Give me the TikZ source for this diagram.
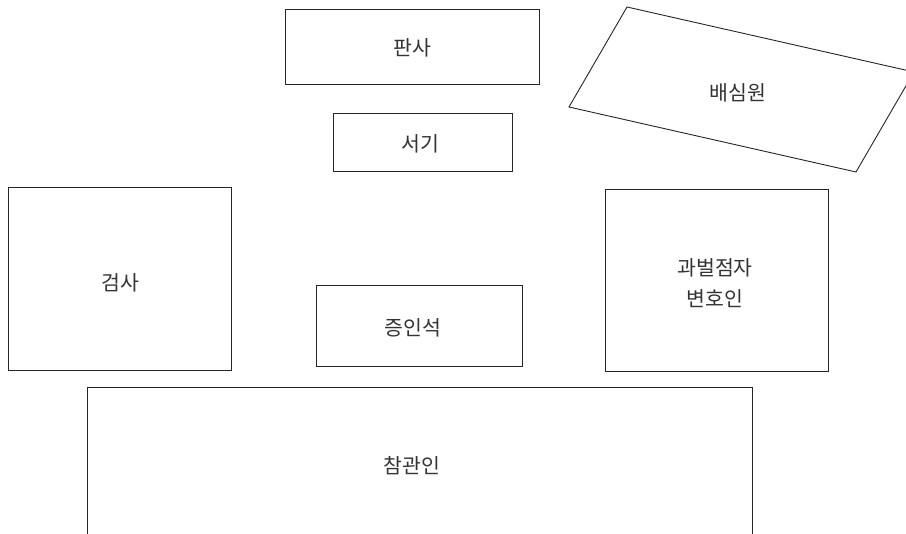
\documentclass[tikz,border=0pt]{standalone}
\usepackage{fontspec}
\setmainfont{Noto Sans CJK KR}
\begin{document}
\begin{tikzpicture}[x=1pt,y=-1pt,
  box/.style={draw=black!85,line width=0.9pt,inner sep=0pt},
  lbl/.style={font=\fontsize{20.5}{31}\selectfont,align=center,inner sep=0pt,text=black!80}]
\useasboundingbox (0,0) rectangle (906,534);
\clip (0,0) rectangle (906,534);
\fill[white] (0,0) rectangle (906,534);
% boxes
\node[box,minimum width=254pt,minimum height=75pt] (pansa) at (412,46.5) {};
\node[box,minimum width=179pt,minimum height=58pt] (seogi) at (422.5,142) {};
\node[box,minimum width=223pt,minimum height=183pt] (geomsa) at (119.5,278.5) {};
\node[box,minimum width=206pt,minimum height=81pt] (jeungin) at (419,325.5) {};
\node[box,minimum width=223pt,minimum height=182pt] (byeonho) at (716.5,280) {};
\node[box,minimum width=665pt,minimum height=200pt] (chamgwan) at (419.5,487) {};
% jury parallelogram
\coordinate (jA) at (627,7);
\coordinate (jB) at (914,72);
\coordinate (jC) at (856,172);
\coordinate (jD) at (569,107);
\draw[draw=black!85,line width=0.9pt,line join=miter] (jA) -- (jB) -- (jC) -- (jD) -- cycle;
% labels
\node[lbl] (tpansa) at (412,48) {판사};
\node[lbl] (tseogi) at (420,144) {서기};
\node[lbl] (tgeomsa) at (120,283) {검사};
\node[lbl] (tjeungin) at (413,328) {증인석};
\node[lbl] (tbyeonho) at (715,283) {과벌점자\\변호인};
\node[lbl] (tchamgwan) at (412,466) {참관인};
\node[lbl] (tjury) at (738,93) {배심원};
\end{tikzpicture}
\end{document}
